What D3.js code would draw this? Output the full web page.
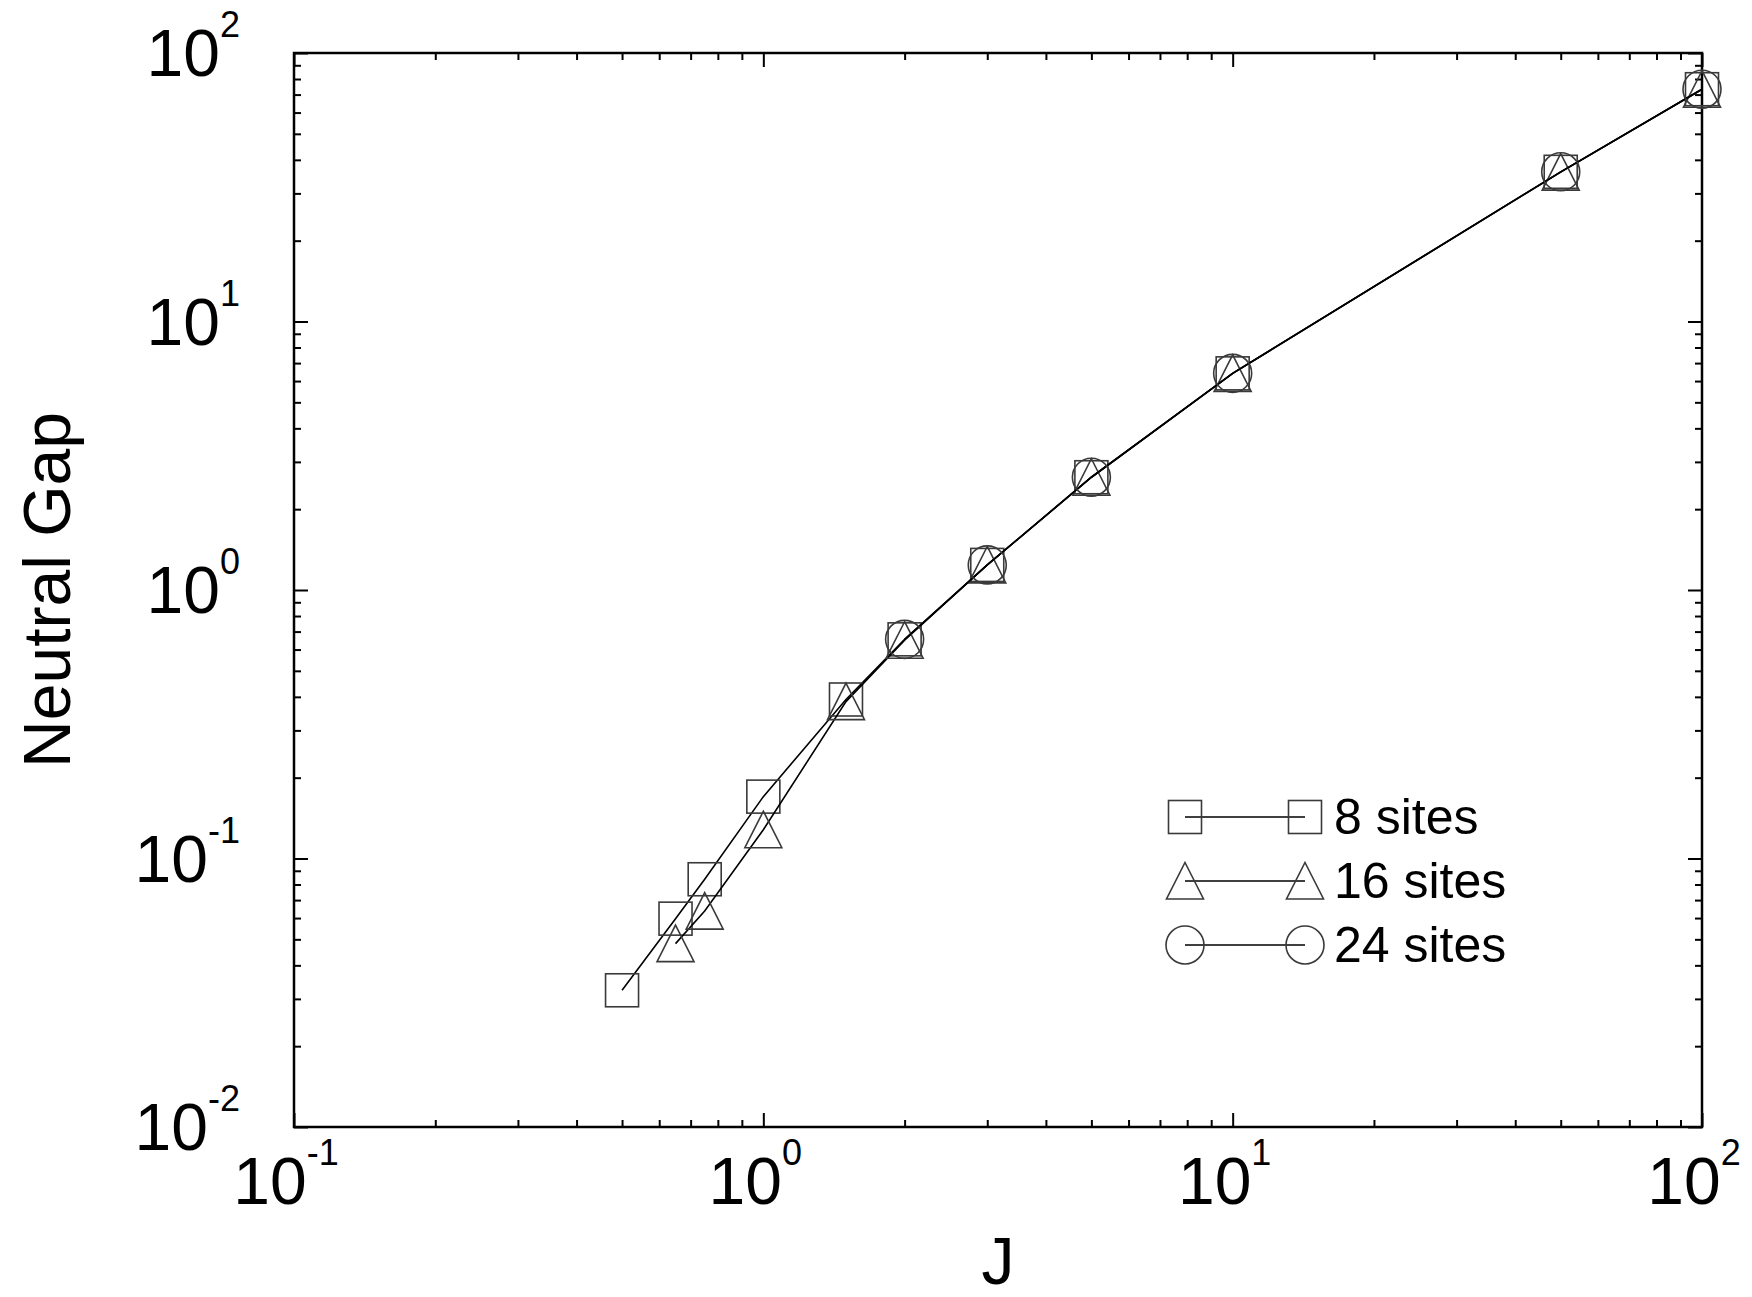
<!DOCTYPE html>
<html>
<head>
<meta charset="utf-8">
<script src="https://cdn.jsdelivr.net/npm/d3@7"></script>
<style>
  body { margin: 0; background: #fff; }
  svg { display: block; font-family: "Liberation Sans", Arial, sans-serif; }
  .tick line { stroke: #000; stroke-width: 2; }
</style>
</head>
<body>
<svg id="chart" width="1752" height="1297"></svg>
<script>
// data
const j8 = [0.5, 0.65, 0.75, 1, 1.5, 2, 3, 5, 10, 50, 100]
const gap8 = [0.0323, 0.0597, 0.0837, 0.170, 0.391, 0.655, 1.24, 2.63, 6.41, 36.1, 73.3]
const j16 = [0.65, 0.75, 1, 1.5, 2, 3, 5, 10, 50, 100]
const gap16 = [0.0482, 0.0637, 0.128, 0.384, 0.650, 1.24, 2.63, 6.41, 36.0, 73.3]
const j24 = [2, 3, 5, 10, 50, 100]
const gap24 = [0.655, 1.24, 2.63, 6.41, 36.1, 73.3]

const seriesNames = ['8 sites', '16 sites', '24 sites']
const xExponents = [-1, 0, 1, 2]
const yExponents = [-2, -1, 0, 1, 2]

const svg = d3.select('#chart')
const mLeft = 294, mRight = 1702, mTop = 53, mBottom = 1127

const x = d3.scaleLog().domain([0.1, 100]).range([mLeft, mRight])
const y = d3.scaleLog().domain([0.01, 100]).range([mBottom, mTop])

function minors(exps) {
  const out = []
  for (let i = 0; i < exps.length - 1; i++) {
    for (let k = 2; k <= 9; k++) out.push(k * Math.pow(10, exps[i]))
  }
  return out
}
const xMajor = xExponents.map(e => Math.pow(10, e))
const yMajor = yExponents.map(e => Math.pow(10, e))

function drawAxis(axisFn, scale, tr, major, minor) {
  const g = svg.append('g').attr('transform', tr)
  g.append('g').call(axisFn(scale).tickValues(minor).tickSize(-7).tickFormat(''))
  g.append('g').call(axisFn(scale).tickValues(major).tickSize(-14).tickFormat(''))
  g.selectAll('.domain').remove()
}
drawAxis(d3.axisBottom, x, `translate(0,${mBottom})`, xMajor, minors(xExponents))
drawAxis(d3.axisTop, x, `translate(0,${mTop})`, xMajor, minors(xExponents))
drawAxis(d3.axisLeft, y, `translate(${mLeft},0)`, yMajor, minors(yExponents))
drawAxis(d3.axisRight, y, `translate(${mRight},0)`, yMajor, minors(yExponents))

svg.append('rect')
  .attr('x', mLeft).attr('y', mTop)
  .attr('width', mRight - mLeft).attr('height', mBottom - mTop)
  .attr('fill', 'none').attr('stroke', '#000').attr('stroke-width', 2.5)

// tick labels 10^n
function powLabel(sel, e) {
  sel.append('tspan').text('10')
  sel.append('tspan').attr('font-size', 36).attr('dy', -39).text(e)
}
xExponents.forEach(function(e) {
  svg.append('text')
    .attr('x', x(Math.pow(10, e)) - 8).attr('y', 1204)
    .attr('text-anchor', 'middle').attr('font-size', 66)
    .call(powLabel, e)
})
yExponents.forEach(function(e) {
  svg.append('text')
    .attr('x', 240).attr('y', y(Math.pow(10, e)) + 23)
    .attr('text-anchor', 'end').attr('font-size', 66)
    .call(powLabel, e)
})

// axis titles
svg.append('text')
  .attr('x', (mLeft + mRight) / 2).attr('y', 1284)
  .attr('text-anchor', 'middle').attr('font-size', 66)
  .text('J')
svg.append('text')
  .attr('transform', `translate(70,${(mTop + mBottom) / 2}) rotate(-90)`)
  .attr('text-anchor', 'middle').attr('font-size', 66)
  .text('Neutral Gap')

// markers
function marker(g, kind, cx, cy) {
  if (kind === 0) {
    g.append('rect').attr('x', cx - 16.5).attr('y', cy - 16.5)
      .attr('width', 33).attr('height', 33)
  } else if (kind === 1) {
    g.append('path')
      .attr('d', `M${cx},${cy - 18.5}L${cx + 18.5},${cy + 18}L${cx - 18.5},${cy + 18}Z`)
  } else {
    g.append('circle').attr('cx', cx).attr('cy', cy).attr('r', 19)
  }
}

const series = [
  { j: j8, gap: gap8 },
  { j: j16, gap: gap16 },
  { j: j24, gap: gap24 }
]
const line = d3.line().x(d => x(d[0])).y(d => y(d[1]))

series.forEach(function(s, i) {
  const pts = s.j.map((v, k) => [v, s.gap[k]])
  svg.append('path')
    .datum(pts)
    .attr('d', line)
    .attr('fill', 'none').attr('stroke', '#000').attr('stroke-width', 1.6)
  const g = svg.append('g')
    .attr('fill', 'none').attr('stroke', '#3a3a3a').attr('stroke-width', 1.6)
  pts.forEach(p => marker(g, i, x(p[0]), y(p[1])))
})

// legend
const legendRows = [817, 881, 945]
seriesNames.forEach(function(name, i) {
  const ly = legendRows[i]
  svg.append('line')
    .attr('x1', 1185).attr('x2', 1305).attr('y1', ly).attr('y2', ly)
    .attr('stroke', '#000').attr('stroke-width', 1.6)
  const g = svg.append('g')
    .attr('fill', 'none').attr('stroke', '#3a3a3a').attr('stroke-width', 1.6)
  marker(g, i, 1185, ly)
  marker(g, i, 1305, ly)
  svg.append('text')
    .attr('x', 1334).attr('y', ly + 17)
    .attr('font-size', 50)
    .text(name)
})
</script>
</body>
</html>
